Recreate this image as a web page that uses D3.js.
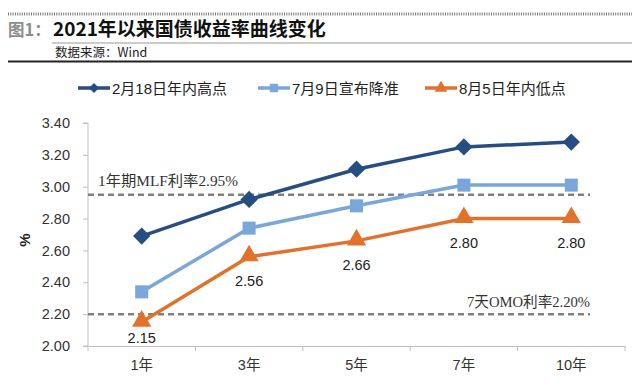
<!DOCTYPE html>
<html><head><meta charset="utf-8">
<script src="https://cdn.jsdelivr.net/npm/d3@7"></script>
<style>body{margin:0;background:#fff;}svg{display:block;}</style>
</head><body>
<script>
const categories = ["1年","3年","5年","7年","10年"];
const seriesNames = ["2月18日年内高点","7月9日宣布降准","8月5日年内低点"];
const highValues = [2.69, 2.92, 3.11, 3.25, 3.28];
const rrrValues = [2.34, 2.74, 2.88, 3.01, 3.01];
const lowValues = [2.15, 2.56, 2.66, 2.80, 2.80];
const yTicks = [2.00,2.20,2.40,2.60,2.80,3.00,3.20,3.40];
const refLines = [{v:2.95,label:"1年期MLF利率2.95%"},{v:2.20,label:"7天OMO利率2.20%"}];

const W=640,H=389;
const svg=d3.select("body").append("svg").attr("width",W).attr("height",H);
const font="'Liberation Sans','Noto Sans CJK SC',sans-serif";

// header
svg.append("line").attr("x1",8).attr("x2",632).attr("y1",14).attr("y2",14)
  .attr("stroke","#777").attr("stroke-width",3).attr("stroke-dasharray","1,1.3");
svg.append("text").attr("x",8).attr("y",35.5).attr("font-family","'Noto Sans CJK SC',sans-serif")
  .attr("font-weight","bold").attr("font-size",16.5).attr("fill","#8c8c8c").text("图1：");
svg.append("text").attr("x",53).attr("y",36).attr("font-family","'Noto Sans CJK SC',sans-serif")
  .attr("font-weight","bold").attr("font-size",19).attr("fill","#111").text("2021年以来国债收益率曲线变化");
svg.append("line").attr("x1",52).attr("x2",632).attr("y1",43).attr("y2",43).attr("stroke","#bbb").attr("stroke-width",1.5);
svg.append("text").attr("x",55).attr("y",57).attr("font-family","'Noto Sans CJK SC',sans-serif")
  .attr("font-size",12.5).attr("fill","#222").text("数据来源：Wind");
svg.append("line").attr("x1",8).attr("x2",632).attr("y1",61.5).attr("y2",61.5).attr("stroke","#222").attr("stroke-width",2);

// scales
const x=d3.scaleBand().domain(categories).range([88,625]);
const y=d3.scaleLinear().domain([2.0,3.4]).range([346,123]);
const cx=d=>x(d)+x.bandwidth()/2;

// y axis
const ya=svg.append("g").attr("transform","translate(88,0)")
  .call(d3.axisLeft(y).tickValues(yTicks).tickFormat(d3.format(".2f")).tickSize(5).tickPadding(13));
ya.select(".domain").attr("stroke","#bfbfbf").attr("d",`M-5,${y(3.4)}H0V${y(2.0)}H-5`);
ya.selectAll(".tick line").attr("stroke","#bfbfbf");
ya.selectAll("text").attr("font-family",font).attr("font-size",14.5).attr("fill","#333");

// x axis
const xa=svg.append("g").attr("transform","translate(0,346)")
  .call(d3.axisBottom(x).tickSize(0).tickPadding(14));
xa.select(".domain").attr("stroke","#bfbfbf");
xa.selectAll("text").attr("font-family",font).attr("font-size",14.5).attr("fill","#333");
const bounds=[88].concat(categories.map(c=>x(c)+x.bandwidth()));
xa.selectAll(".bt").data(bounds).enter().append("line").attr("class","bt")
  .attr("x1",d=>d).attr("x2",d=>d).attr("y1",0).attr("y2",5).attr("stroke","#bfbfbf");

// % label
svg.append("text").attr("transform","translate(30,240) rotate(-90)").attr("text-anchor","middle")
  .attr("font-family",font).attr("font-weight","bold").attr("font-size",15).attr("fill","#222").text("%");

// reference lines
refLines.forEach((r,i)=>{
  svg.append("line").attr("x1",88).attr("x2",590).attr("y1",y(r.v)).attr("y2",y(r.v))
    .attr("stroke","#808080").attr("stroke-width",2.5).attr("stroke-dasharray","6,4");
});
svg.append("text").attr("x",98).attr("y",y(2.95)-9).attr("font-family","'Liberation Serif','Noto Sans CJK SC',serif")
  .attr("font-size",15).attr("fill","#333").attr("textLength",140).attr("lengthAdjust","spacingAndGlyphs").text(refLines[0].label);
svg.append("text").attr("x",467).attr("y",y(2.20)-7).attr("font-family","'Liberation Serif','Noto Sans CJK SC',serif")
  .attr("font-size",15).attr("fill","#333").attr("textLength",123).attr("lengthAdjust","spacingAndGlyphs").text(refLines[1].label);

const colors=["#264e82","#7aa6da","#e2722b"];
const data=[highValues,rrrValues,lowValues];
const line=d3.line().x((d,i)=>cx(categories[i])).y(d=>y(d));
const sym=[d3.symbolSquare,d3.symbolSquare,d3.symbolTriangle];
const symSize=[150,170,160];
data.forEach((vals,k)=>{
  svg.append("path").datum(vals).attr("d",line).attr("fill","none").attr("stroke",colors[k]).attr("stroke-width",3.5);
  svg.selectAll(".m"+k).data(vals).enter().append("path")
    .attr("d",d3.symbol().type(sym[k]).size(symSize[k]))
    .attr("fill",colors[k])
    .attr("transform",(d,i)=>`translate(${cx(categories[i])},${y(d)})`+(k===0?" rotate(45)":"")+(k===2?" translate(0,-1)":""));
});
// data labels for low series
svg.selectAll(".lbl").data(lowValues).enter().append("text")
  .attr("x",(d,i)=>cx(categories[i])).attr("y",(d,i)=>Math.min(y(d)+29,343)).attr("text-anchor","middle")
  .attr("font-family",font).attr("font-size",14.5).attr("fill","#222").text(d=>d.toFixed(2));

// legend
const lx=[78,258,425];
seriesNames.forEach((n,k)=>{
  const g=svg.append("g").attr("transform",`translate(${lx[k]},88)`);
  g.append("line").attr("x1",0).attr("x2",32).attr("stroke",colors[k]).attr("stroke-width",3.5);
  g.append("path").attr("d",d3.symbol().type(sym[k]).size(k===0?50:70)).attr("fill",colors[k])
    .attr("transform","translate(16,0)"+(k===0?" rotate(45)":""));
  g.append("text").attr("x",34).attr("y",5.5).attr("font-family",font).attr("font-size",15).attr("fill","#222").text(n);
});
</script>
</body></html>
